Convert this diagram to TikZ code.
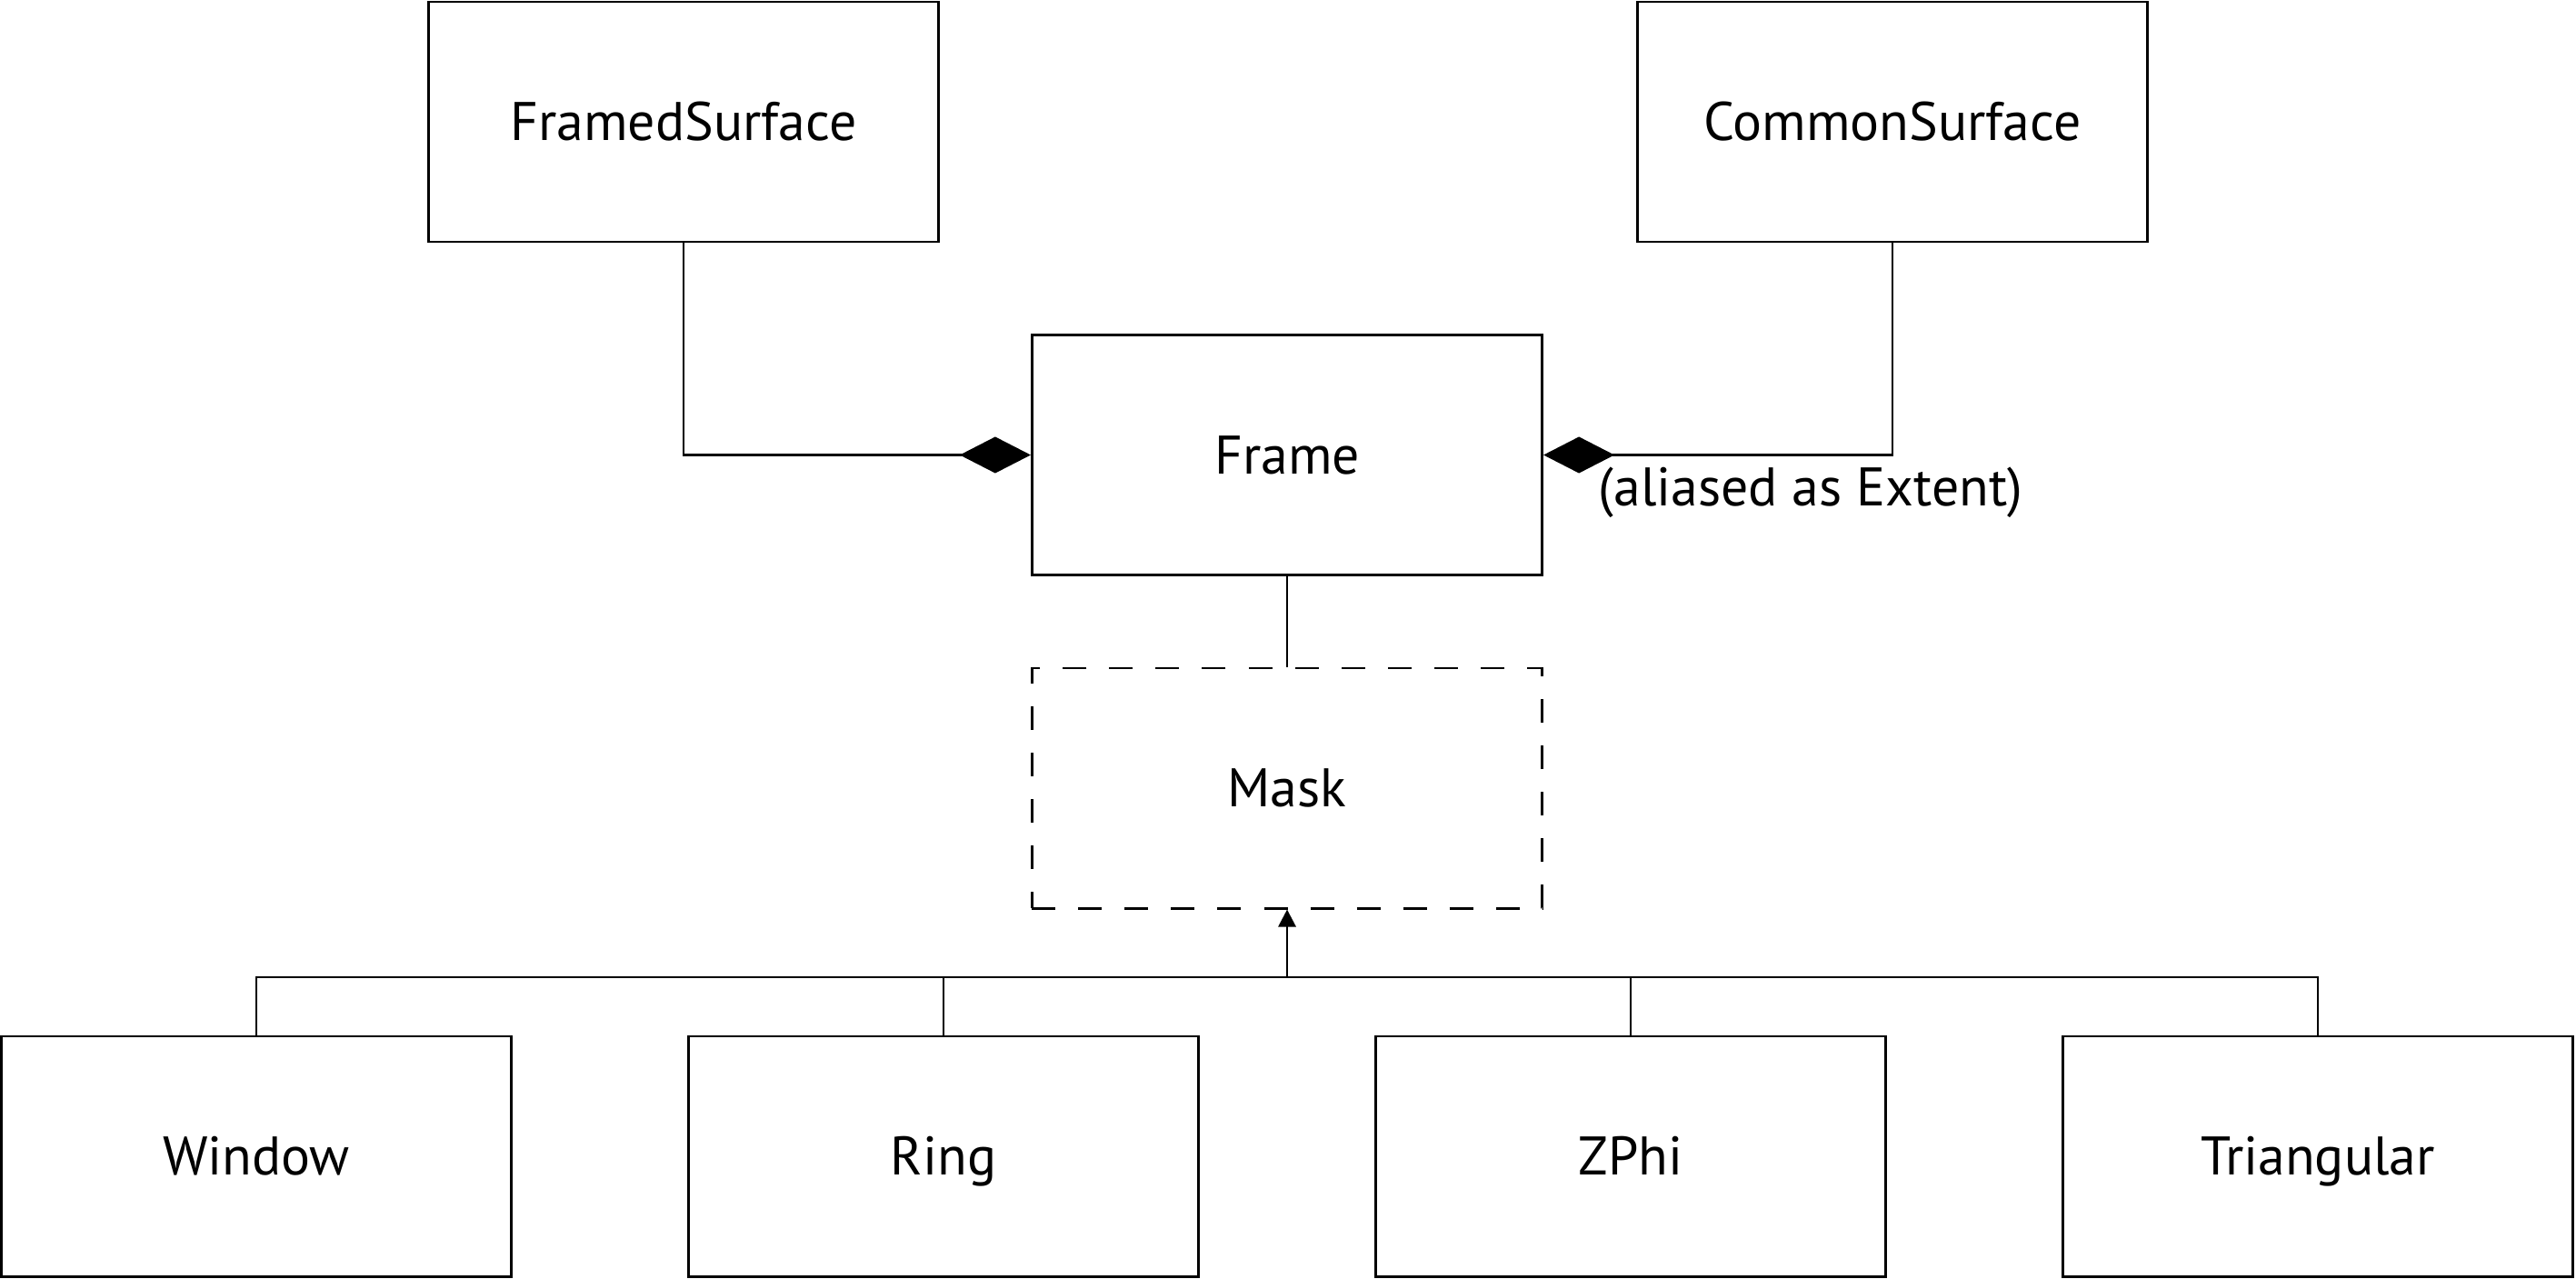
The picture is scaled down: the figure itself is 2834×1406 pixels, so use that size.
\documentclass[tikz,border=0pt]{standalone}
\usepackage{fontspec}
\setmainfont{PT Sans}
\usetikzlibrary{arrows.meta}
\begin{document}
\begin{tikzpicture}[x=0.01cm,y=-0.01cm,
  txt/.style={font=\fontsize{17}{21}\selectfont},
  cls/.style={draw,line width=0.8pt,minimum width=5.61cm,minimum height=2.64cm,inner sep=0pt,txt,text height=1.17em,text depth=0pt},
  conn/.style={line width=0.8pt},
  comp/.style={conn,{Diamond[length=0.78cm,width=0.40cm]}-},
  gen/.style={conn,-{Triangle[length=0.19cm,width=0.19cm]}}]
\useasboundingbox (0,0) rectangle (2834,1406);
\node[cls] (fs) at (752,134) {FramedSurface};
\node[cls] (cs) at (2082,134) {CommonSurface};
\node[cls] (fr) at (1416,500.5) {Frame};
\node[cls,dashed,dash pattern=on 0.26cm off 0.25cm] (mk) at (1416,867) {Mask};
\node[cls] (w) at (282,1272) {Window};
\node[cls] (r) at (1038,1272) {Ring};
\node[cls] (z) at (1794,1272) {ZPhi};
\node[cls] (t) at (2550,1272) {Triangular};
\coordinate (bus) at (1416,1075);
\draw[comp] (fr.west) -| (fs.south);
\draw[comp] (fr.east) -| (cs.south);
\node[anchor=west,inner sep=0pt,txt] (al) at (1758,542) {(aliased as Extent)};
\draw[conn] (fr.south) -- (mk.north);
\draw[gen] (bus) -- (mk.south);
\draw[conn] (w.north) |- (bus);
\draw[conn] (r.north) |- (bus);
\draw[conn] (z.north) |- (bus);
\draw[conn] (t.north) |- (bus);
\end{tikzpicture}
\end{document}
